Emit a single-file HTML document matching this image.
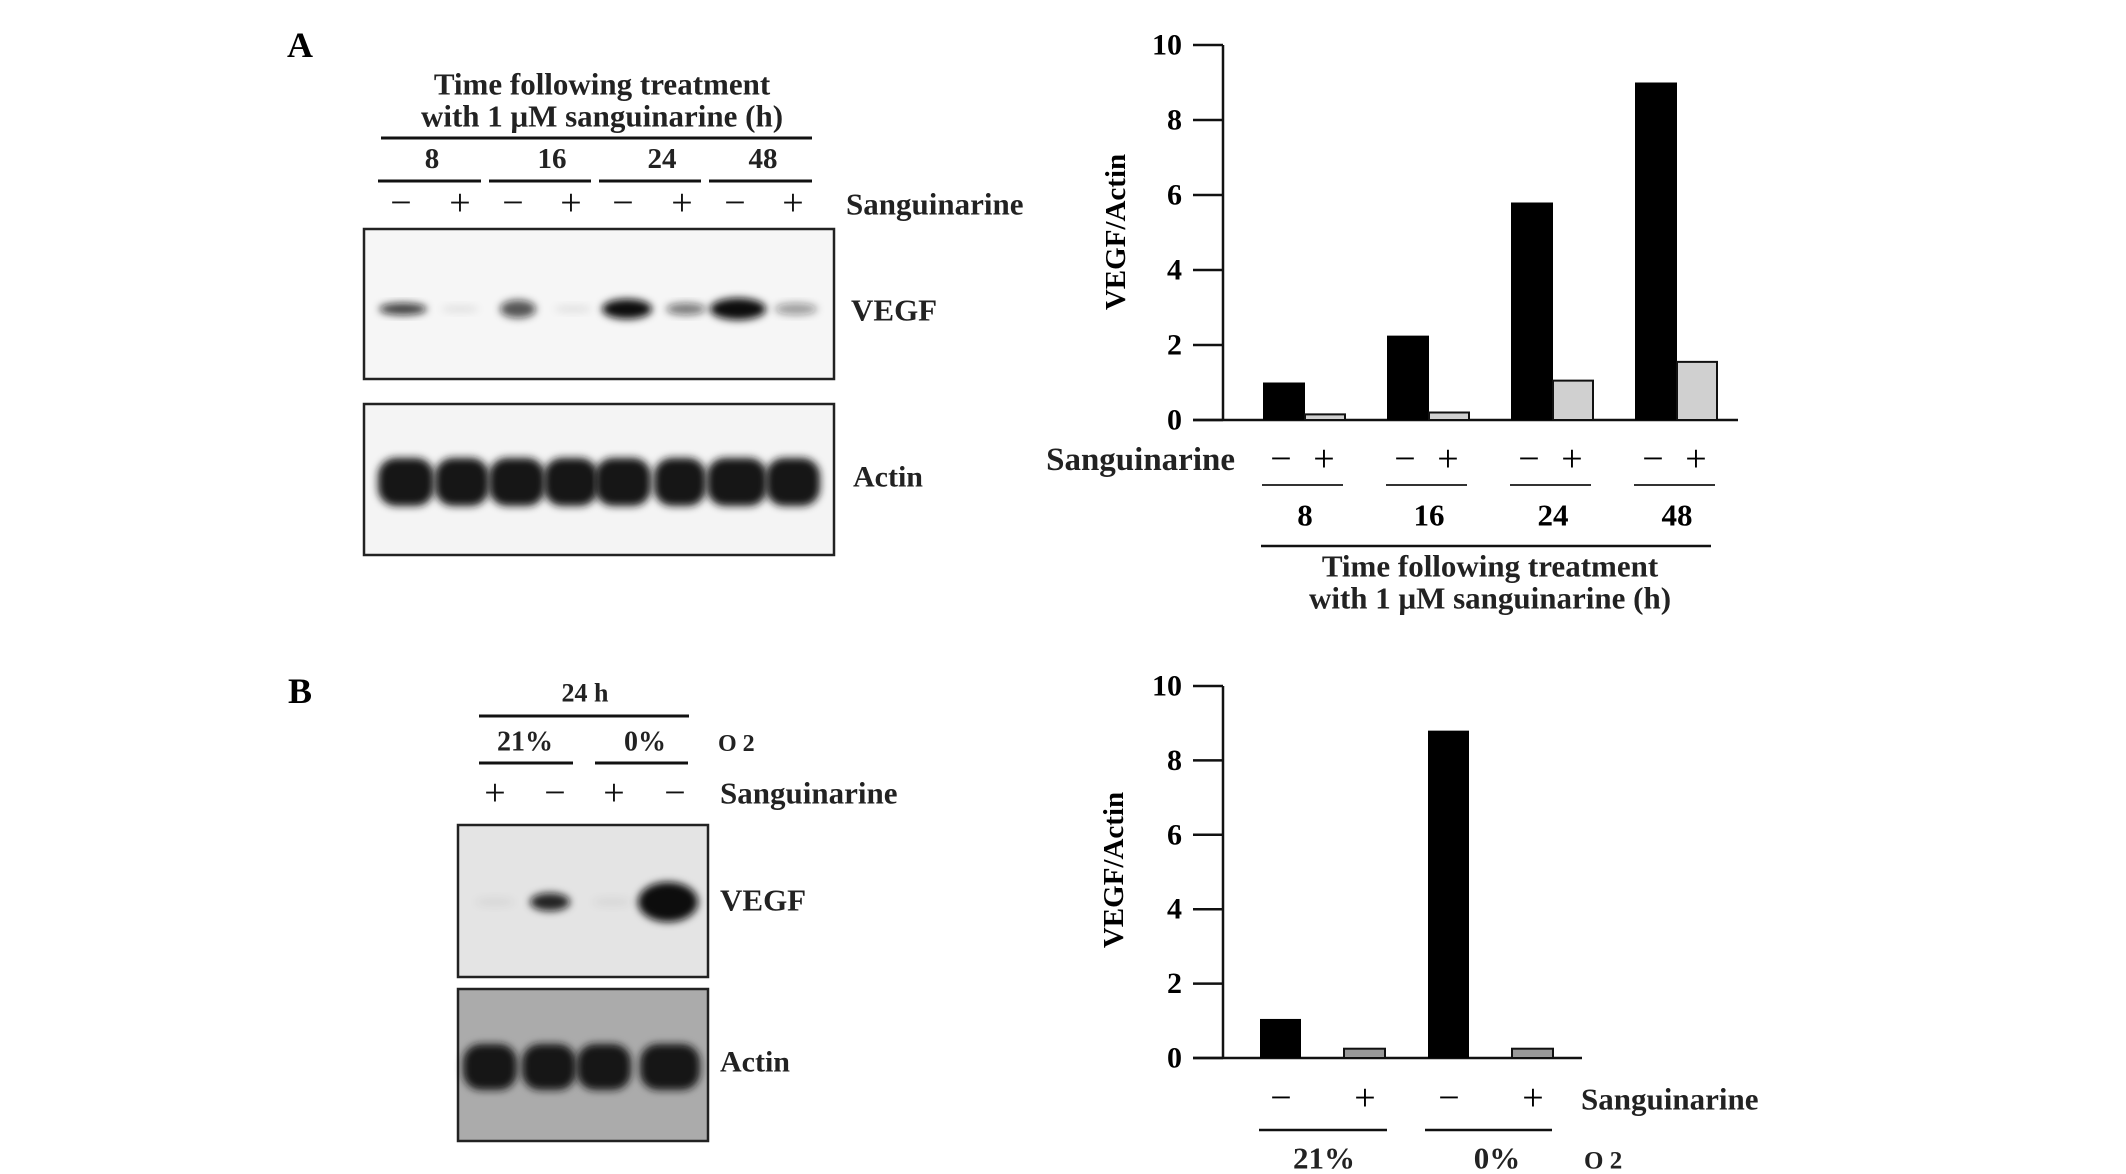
<!DOCTYPE html>
<html><head><meta charset="utf-8"><style>
html,body{margin:0;padding:0;background:#fff;overflow:hidden;}
svg{display:block;font-family:"Liberation Serif",serif;font-weight:bold;}
</style></head><body>
<svg id="fig" width="2126" height="1174" viewBox="0 0 2126 1174">
<defs>
<filter id="blur" x="-50%" y="-50%" width="200%" height="200%"><feGaussianBlur stdDeviation="4"/></filter>
</defs>
<g>
<text x="300" y="45" font-size="36" text-anchor="middle" dominant-baseline="central">A</text>
<text x="602" y="84" font-size="31" text-anchor="middle" dominant-baseline="central" fill="#222">Time following treatment</text>
<text x="602" y="116" font-size="31" text-anchor="middle" dominant-baseline="central" fill="#222">with 1 μM sanguinarine (h)</text>
<line x1="381" y1="138" x2="812" y2="138" stroke="#111" stroke-width="3"/>
<g id="blotAHdr"></g>
<rect x="364" y="229" width="470" height="150" fill="#f6f6f6" stroke="#222" stroke-width="2.5"/>
<g id="blotAVegf"></g>
<text x="851" y="310" font-size="31" dominant-baseline="central" fill="#222">VEGF</text>
<rect x="364" y="404" width="470" height="151" fill="#f4f4f4" stroke="#222" stroke-width="2.5"/>
<g id="blotAActin"></g>
<text x="853" y="477" font-size="30" dominant-baseline="central" fill="#222">Actin</text>
</g>
<g>
<text x="300" y="691" font-size="36" text-anchor="middle" dominant-baseline="central">B</text>
<text x="585" y="693" font-size="26" text-anchor="middle" dominant-baseline="central" fill="#222">24 h</text>
<line x1="479" y1="716" x2="689" y2="716" stroke="#111" stroke-width="3"/>
<text x="525" y="742" font-size="28" text-anchor="middle" dominant-baseline="central" fill="#222">21%</text>
<text x="645" y="742" font-size="28" text-anchor="middle" dominant-baseline="central" fill="#222">0%</text>
<text x="718" y="744" font-size="24" dominant-baseline="central" fill="#222">O 2</text>
<line x1="479" y1="763" x2="573" y2="763" stroke="#111" stroke-width="3"/>
<line x1="595" y1="763" x2="688" y2="763" stroke="#111" stroke-width="3"/>
<g id="blotBHdr"></g>
<text x="720" y="793" font-size="31" dominant-baseline="central" fill="#222">Sanguinarine</text>
<rect x="458" y="825" width="250" height="152" fill="#e4e4e4" stroke="#222" stroke-width="2.5"/>
<g id="blotBVegf"></g>
<text x="720" y="900" font-size="31" dominant-baseline="central" fill="#222">VEGF</text>
<rect x="458" y="989" width="250" height="152" fill="#ababab" stroke="#222" stroke-width="2.5"/>
<g id="blotBActin"></g>
<text x="720" y="1062" font-size="30" dominant-baseline="central" fill="#222">Actin</text>
</g>
<g id="chartA" transform="translate(-6,0)"></g>
<g id="chartB" transform="translate(-6,0)"></g>
</svg>
<script>
const NS="http://www.w3.org/2000/svg";
// Chart A data
const timeCategories=["8","16","24","48"];
const controlValuesA=[1.0,2.25,5.8,9.0];
const sanguinarineValuesA=[0.15,0.2,1.05,1.55];
const yTicks=[0,2,4,6,8,10];
// Chart B data
const oxygenCategories=["21%","0%"];
const barLabelsB=["−","+","−","+"];
const valuesB=[1.05,0.25,8.8,0.25];
const barIsTreatedB=[false,true,false,true];

function mk(parent,tag,attrs,text){const e=document.createElementNS(NS,tag);for(const k in attrs)e.setAttribute(k,attrs[k]);if(text!==undefined)e.textContent=text;parent.appendChild(e);return e;}

const hA=document.getElementById('blotAHdr');
const grpX=[[378,481],[489,591],[599,701],[709,812]];
const numX=[432,552,662,763];
timeCategories.forEach((c,i)=>{
  let t=mk(hA,'text',{x:numX[i],y:159,'font-size':29,'text-anchor':'middle','dominant-baseline':'central',fill:'#222'},c);
  
  
  let l=mk(hA,'line',{x1:grpX[i][0],y1:181,x2:grpX[i][1],y2:181,stroke:'#111','stroke-width':3});
  
  
});
const pmA=[[401,'−'],[460,'+'],[513,'−'],[571,'+'],[623,'−'],[682,'+'],[735,'−'],[793,'+']];
pmA.forEach(p=>{let t=mk(hA,'text',{x:p[0],y:203,'font-size':38,'font-weight':'normal','text-anchor':'middle','dominant-baseline':'central',fill:'#111'},p[1]);

});
let sA=mk(hA,'text',{x:846,y:204,'font-size':31,'dominant-baseline':'central',fill:'#222'},'Sanguinarine');



const vA=document.getElementById('blotAVegf');
const vegfBands=[[403,40,6,0.8],[460,30,4,0.08],[518,28,9,0.7],[573,30,4,0.08],[627,42,10,1],[686,32,6,0.55],[738,48,11,1],[796,35,6,0.4]];
vegfBands.forEach(b=>{let e=mk(vA,'ellipse',{cx:b[0],cy:309,rx:b[1]/2+4,ry:b[2],fill:'#111','fill-opacity':b[3],filter:'url(#blur)'});

});
const aA=document.getElementById('blotAActin');
[[406,56],[462,54],[517,56],[571,54],[623,56],[680,52],[737,60],[793,54]].forEach(b=>{let e=mk(aA,'rect',{x:b[0]-b[1]/2,y:458,width:b[1],height:48,rx:18,fill:'#151515',filter:'url(#blur)'});

});

const hB=document.getElementById('blotBHdr');
[[495,'+'],[555,'−'],[614,'+'],[675,'−']].forEach(p=>{let t=mk(hB,'text',{x:p[0],y:793,'font-size':38,'font-weight':'normal','text-anchor':'middle','dominant-baseline':'central',fill:'#111'},p[1]);

});
const vB=document.getElementById('blotBVegf');
[[495,20,5,0.05],[550,20,9,0.9],[612,20,5,0.05],[668,30,20,1]].forEach(b=>{let e=mk(vB,'ellipse',{cx:b[0],cy:902,rx:b[1],ry:b[2],fill:'#111','fill-opacity':b[3],filter:'url(#blur)'});

});
const aB=document.getElementById('blotBActin');
[[490,54],[549,54],[604,54],[670,60]].forEach(b=>{let e=mk(aB,'rect',{x:b[0]-b[1]/2,y:1044,width:b[1],height:46,rx:18,fill:'#151515',filter:'url(#blur)'});

});

// Chart A
(function(){
  const g=document.getElementById('chartA');
  const x0=1229,xEnd=1744,yTop=45,yBot=420;
  const ys=v=>yBot-(v/10)*(yBot-yTop);
  let ax=mk(g,'line',{x1:x0,y1:yTop,x2:x0,y2:yBot,stroke:'#111','stroke-width':2.5});
  
  
  let bx=mk(g,'line',{x1:1199,y1:yBot,x2:xEnd,y2:yBot,stroke:'#111','stroke-width':2.5});
  
  
  yTicks.forEach(t=>{
    let l=mk(g,'line',{x1:1199,y1:ys(t),x2:x0,y2:ys(t),stroke:'#111','stroke-width':2.5});
    
    
    let tx=mk(g,'text',{x:1188,y:ys(t),'font-size':30,'text-anchor':'end','dominant-baseline':'central'},String(t));
    
    
  });
  let yl=mk(g,'text',{x:1122,y:232,'font-size':29,'text-anchor':'middle','dominant-baseline':'central',transform:'rotate(-90 1122 232)'},'VEGF/Actin');
  
  
  const gx=i=>1269+i*124, bw=42;
  timeCategories.forEach((c,i)=>{
    let b1=mk(g,'rect',{x:gx(i),y:ys(controlValuesA[i]),width:bw,height:yBot-ys(controlValuesA[i]),fill:'#000'});
    
    
    let b2=mk(g,'rect',{x:gx(i)+bw,y:ys(sanguinarineValuesA[i]),width:bw-2,height:yBot-ys(sanguinarineValuesA[i]),fill:'#d0d0d0',stroke:'#111','stroke-width':2});
    
    
    let m=mk(g,'text',{x:gx(i)+18,y:459,'font-size':38,'font-weight':'normal','text-anchor':'middle','dominant-baseline':'central'},'−');
    
    
    let p=mk(g,'text',{x:gx(i)+61,y:459,'font-size':38,'font-weight':'normal','text-anchor':'middle','dominant-baseline':'central'},'+');
    
    
    let r=mk(g,'line',{x1:gx(i)-1,y1:485,x2:gx(i)+80,y2:485,stroke:'#333','stroke-width':2});
    
    
    let n=mk(g,'text',{x:gx(i)+42,y:515,'font-size':31,'text-anchor':'middle','dominant-baseline':'central'},c);
    
    
  });
  let sl=mk(g,'text',{x:1241,y:460,'font-size':33,'text-anchor':'end','dominant-baseline':'central',fill:'#222'},'Sanguinarine');
  
  
  let lr=mk(g,'line',{x1:1267,y1:546,x2:1717,y2:546,stroke:'#111','stroke-width':2.5});
  
  
  let t1=mk(g,'text',{x:1496,y:566,'font-size':31,'text-anchor':'middle','dominant-baseline':'central',fill:'#222'},'Time following treatment');
  
  
  let t2=mk(g,'text',{x:1496,y:598,'font-size':31,'text-anchor':'middle','dominant-baseline':'central',fill:'#222'},'with 1 μM sanguinarine (h)');
  
  
})();

// Chart B
(function(){
  const g=document.getElementById('chartB');
  const x0=1229,xEnd=1588,yTop=686,yBot=1058;
  const ys=v=>yBot-(v/10)*(yBot-yTop);
  let ax=mk(g,'line',{x1:x0,y1:yTop,x2:x0,y2:yBot,stroke:'#111','stroke-width':2.5});
  
  
  let bx=mk(g,'line',{x1:1199,y1:yBot,x2:xEnd,y2:yBot,stroke:'#111','stroke-width':2.5});
  
  
  yTicks.forEach(t=>{
    let l=mk(g,'line',{x1:1199,y1:ys(t),x2:x0,y2:ys(t),stroke:'#111','stroke-width':2.5});
    
    
    let tx=mk(g,'text',{x:1188,y:ys(t),'font-size':30,'text-anchor':'end','dominant-baseline':'central'},String(t));
    
    
  });
  let yl=mk(g,'text',{x:1120,y:870,'font-size':29,'text-anchor':'middle','dominant-baseline':'central',transform:'rotate(-90 1120 870)'},'VEGF/Actin');
  
  
  const bx0=i=>1266+i*84, bw=41;
  valuesB.forEach((v,i)=>{
    let b=mk(g,'rect',{x:bx0(i),y:ys(v),width:bw,height:yBot-ys(v),fill:barIsTreatedB[i]?'#999':'#000',stroke:'#111','stroke-width':barIsTreatedB[i]?2:0});
    
    
    let s=mk(g,'text',{x:bx0(i)+21,y:1098,'font-size':38,'font-weight':'normal','text-anchor':'middle','dominant-baseline':'central'},barLabelsB[i]);
    
    
  });
  oxygenCategories.forEach((c,j)=>{
    let r=mk(g,'line',{x1:1265+j*166,y1:1130,x2:1393+j*165,y2:1130,stroke:'#111','stroke-width':2.5});
    
    
    let t=mk(g,'text',{x:1330+j*173,y:1158,'font-size':31,'text-anchor':'middle','dominant-baseline':'central',fill:'#222'},c);
    
    
  });
  let sl=mk(g,'text',{x:1587,y:1099,'font-size':31,'dominant-baseline':'central',fill:'#222'},'Sanguinarine');
  
  
  let o=mk(g,'text',{x:1590,y:1161,'font-size':25,'dominant-baseline':'central',fill:'#222'},'O 2');
  
  
})();
</script>
</body></html>
